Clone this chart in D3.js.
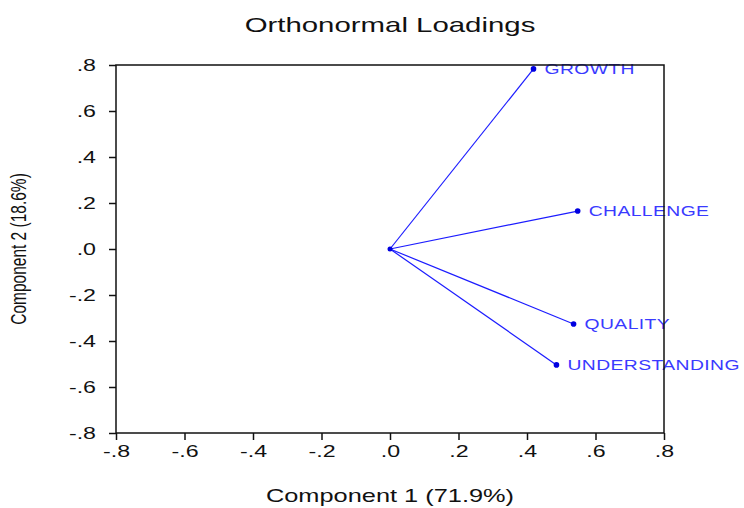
<!DOCTYPE html>
<html>
<head>
<meta charset="utf-8">
<script src="https://cdn.jsdelivr.net/npm/d3@7"></script>
<style>
  body { margin: 0; background: #fff; }
  text { font-family: "Liberation Sans", Arial, sans-serif; }
</style>
</head>
<body>
<div id="chart"></div>
<script>
// loadings
var variables = ["GROWTH", "CHALLENGE", "QUALITY", "UNDERSTANDING"];
var comp1 = [0.419, 0.548, 0.536, 0.486];
var comp2 = [0.783, 0.165, -0.326, -0.504];
var ticks = [-0.8, -0.6, -0.4, -0.2, 0, 0.2, 0.4, 0.6, 0.8];

var w = 744, h = 508;
var padL = 116, padR = 664, padT = 65, padB = 433;
var sx = 1.45; // the original text is drawn wide

var svg = d3.select("#chart").append("svg")
  .attr("width", w).attr("height", h);

var x = d3.scaleLinear().domain([-0.8, 0.8]).range([padL, padR]);
var y = d3.scaleLinear().domain([-0.8, 0.8]).range([padB, padT]);

var fmt = function(v) {
  var s = (Math.abs(v) < 1e-9 ? 0 : v).toFixed(1);
  return s.replace("0.", ".");
};

// axes
var xAxis = svg.append("g")
  .attr("transform", "translate(0," + padB + ")")
  .call(d3.axisBottom(x).tickValues(ticks).tickFormat(fmt).tickSize(7).tickSizeOuter(0));
var yAxis = svg.append("g")
  .attr("transform", "translate(" + padL + ",0)")
  .call(d3.axisLeft(y).tickValues(ticks).tickFormat(fmt).tickSize(7).tickSizeOuter(0));

[xAxis, yAxis].forEach(function(a) {
  a.select(".domain").remove();
  a.selectAll("line").attr("stroke", "#111").attr("stroke-width", 1.5);
  a.selectAll("text").attr("fill", "#111").style("font-size", "16px")
    .attr("transform", "scale(" + sx + ",1)");
});
xAxis.selectAll("text").attr("y", 13);
yAxis.selectAll("text").attr("x", -20 / sx);

// loading vectors
var data = variables.map(function(v, i) {
  return { name: v, x: comp1[i], y: comp2[i] };
});

svg.selectAll("line.vec")
  .data(data)
  .enter()
  .append("line")
  .attr("class", "vec")
  .attr("x1", x(0)).attr("y1", y(0))
  .attr("x2", function(d) { return x(d.x); })
  .attr("y2", function(d) { return y(d.y); })
  .attr("stroke", "#1c1cff")
  .attr("stroke-width", 1.2);

svg.append("circle")
  .attr("cx", x(0)).attr("cy", y(0)).attr("r", 2.5).attr("fill", "#0000e0");

svg.selectAll("circle.pt")
  .data(data)
  .enter()
  .append("circle")
  .attr("class", "pt")
  .attr("cx", function(d) { return x(d.x); })
  .attr("cy", function(d) { return y(d.y); })
  .attr("r", 2.8)
  .attr("fill", "#0000e0");

svg.selectAll("text.lbl")
  .data(data)
  .enter()
  .append("text")
  .attr("class", "lbl")
  .attr("transform", function(d) {
    return "translate(" + (x(d.x) + 11) + "," + (y(d.y) + 5) + ") scale(1.38,1)";
  })
  .attr("fill", "#3a3aff")
  .style("font-size", "14px")
  .style("letter-spacing", "0.3px")
  .text(function(d) { return d.name; });

// frame
svg.append("rect")
  .attr("x", padL).attr("y", padT)
  .attr("width", padR - padL).attr("height", padB - padT)
  .attr("fill", "none").attr("stroke", "#111").attr("stroke-width", 1.5);

// titles
svg.append("text")
  .attr("transform", "translate(390,32) scale(1.4,1)")
  .attr("text-anchor", "middle")
  .attr("fill", "#111")
  .style("font-size", "21px")
  .text("Orthonormal Loadings");

svg.append("text")
  .attr("transform", "translate(390,502) scale(" + sx + ",1)")
  .attr("text-anchor", "middle")
  .attr("fill", "#111")
  .style("font-size", "17.5px")
  .text("Component 1 (71.9%)");

svg.append("text")
  .attr("transform", "translate(26," + y(0) + ") rotate(-90) scale(1," + sx + ")")
  .attr("text-anchor", "middle")
  .attr("fill", "#111")
  .style("font-size", "15.5px")
  .text("Component 2 (18.6%)");
</script>
</body>
</html>
